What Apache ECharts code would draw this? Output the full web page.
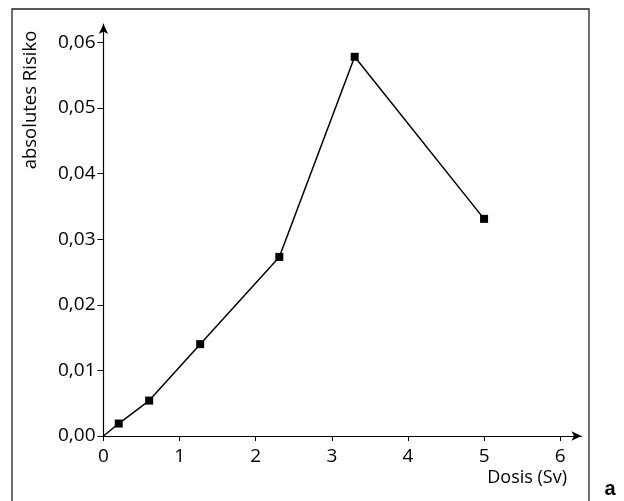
<!DOCTYPE html>
<html>
<head>
<meta charset="utf-8">
<script src="https://cdn.jsdelivr.net/npm/echarts@6/dist/echarts.min.js"></script>
<style>
  html, body { margin: 0; padding: 0; background: #fff; }
  #main { width: 624px; height: 501px; }
</style>
</head>
<body>
<div id="main"></div>
<script>
// Dosis (Sv) / absolutes Risiko
var doseValues = [0, 0.2, 0.6, 1.27, 2.31, 3.3, 5.0];
var riskValues = [0, 0.0019, 0.0054, 0.014, 0.0273, 0.0578, 0.0331];
var markerShown = [false, true, true, true, true, true, true];
var xTicks = [0, 1, 2, 3, 4, 5, 6];
var yTicks = [0, 0.01, 0.02, 0.03, 0.04, 0.05, 0.06];

var fontName = 'Open Sans';
var myChart = echarts.init(document.getElementById('main'));

var seriesData = [];
for (var i = 0; i < doseValues.length; i++) {
  var item = { value: [doseValues[i], riskValues[i]] };
  if (!markerShown[i]) item.symbol = 'none';
  seriesData.push(item);
}

var option = {
  animation: false,
  backgroundColor: '#fff',
  grid: { left: 103.5, right: 42.5, top: 24, bottom: 65 },
  xAxis: {
    type: 'value',
    min: 0,
    max: 6.28,
    interval: 1,
    splitLine: { show: false },
    axisLine: { lineStyle: { color: '#000', width: 1.2 }, symbol: ['none', 'arrow'], symbolSize: [7, 10] },
    axisTick: { inside: false, length: 5, lineStyle: { color: '#000' }, customValues: xTicks },
    axisLabel: { color: '#000', fontFamily: fontName, fontSize: 19, margin: 11, customValues: xTicks }
  },
  yAxis: {
    type: 'value',
    min: 0,
    max: 0.0628,
    interval: 0.01,
    splitLine: { show: false },
    axisLine: { lineStyle: { color: '#000', width: 1.2 }, symbol: ['none', 'arrow'], symbolSize: [7, 10] },
    axisTick: { inside: false, length: 6, lineStyle: { color: '#000' }, customValues: yTicks },
    axisLabel: {
      color: '#000', fontFamily: fontName, fontSize: 19, margin: 8, customValues: yTicks,
      formatter: function (v) { return v.toFixed(2).replace('.', ','); }
    }
  },
  graphic: [
    { type: 'rect', shape: { x: 12, y: 9, width: 577, height: 520 },
      style: { fill: 'none', stroke: '#222', lineWidth: 1.3 }, silent: true },
    { type: 'text', x: 31, y: 100, rotation: Math.PI / 2,
      style: { text: 'absolutes Risiko', fill: '#000', font: '18.5px "Open Sans"', align: 'center', verticalAlign: 'middle' } },
    { type: 'text', x: 567, y: 478,
      style: { text: 'Dosis (Sv)', fill: '#000', font: '18px "Open Sans"', align: 'right', verticalAlign: 'middle' } },
    { type: 'text', x: 610, y: 489,
      style: { text: 'a', fill: '#000', font: 'bold 20px "Liberation Sans"', align: 'center', verticalAlign: 'middle' } }
  ],
  series: [{
    type: 'line',
    data: seriesData,
    symbol: 'rect',
    symbolSize: 8,
    lineStyle: { color: '#000', width: 1.5 },
    itemStyle: { color: '#000' }
  }]
};
myChart.setOption(option);
</script>
</body>
</html>
